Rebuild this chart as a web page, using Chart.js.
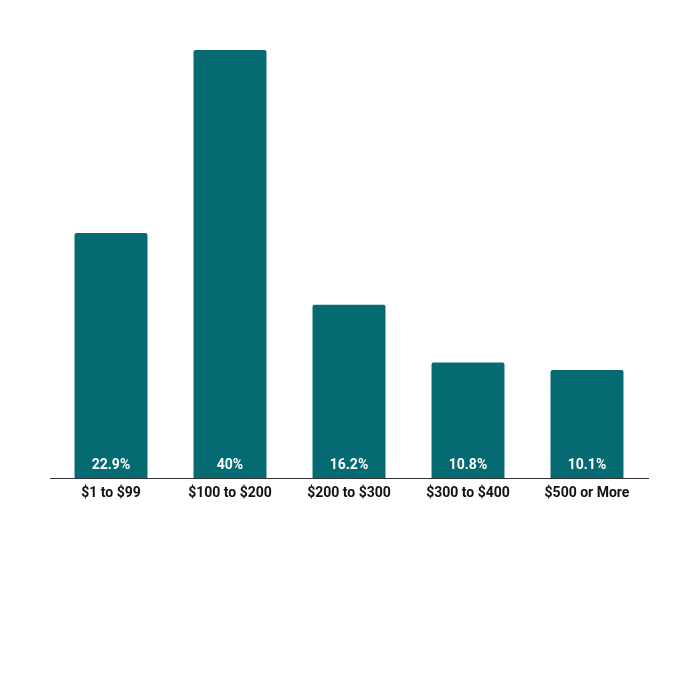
<!DOCTYPE html>
<html>
<head>
<meta charset="utf-8">
<script src="https://cdn.jsdelivr.net/npm/chart.js@4"></script>
<style>
  html, body { margin: 0; padding: 0; background: #fff; }
  #wrap { width: 700px; height: 700px; }
</style>
</head>
<body>
<div id="wrap"><canvas id="priceChart"></canvas></div>
<script>
const categories = ['$1 to $99', '$100 to $200', '$200 to $300', '$300 to $400', '$500 or More']
const shares = [22.9, 40, 16.2, 10.8, 10.1]
const barColor = '#066a72'

// white value labels near the base of each bar
const insideLabels = {
    id: 'insideLabels',
    afterDatasetsDraw(chart) {
        const ctx = chart.ctx
        const meta = chart.getDatasetMeta(0)
        ctx.save()
        ctx.fillStyle = '#ffffff'
        ctx.font = 'bold 14px Roboto'
        ctx.textAlign = 'center'
        ctx.textBaseline = 'middle'
        meta.data.forEach((bar, i) => {
            ctx.fillText(shares[i] + '%', bar.x, chart.chartArea.bottom - 12.5)
        })
        ctx.restore()
    }
}

// baseline runs a little past the plot area on both sides
const baseLine = {
    id: 'baseLine',
    afterDatasetsDraw(chart) {
        const ctx = chart.ctx
        const y = Math.round(chart.chartArea.bottom) + 0.5
        ctx.save()
        ctx.strokeStyle = '#333'
        ctx.lineWidth = 1
        ctx.beginPath()
        ctx.moveTo(50, y)
        ctx.lineTo(649, y)
        ctx.stroke()
        ctx.restore()
    }
}

const ctx = document.getElementById('priceChart').getContext('2d')

new Chart(ctx, {
    type: 'bar',
    data: {
        labels: categories,
        datasets: [{
            data: shares,
            backgroundColor: barColor,
            borderRadius: 2,
            borderSkipped: 'bottom',
            categoryPercentage: 1,
            barPercentage: 0.613
        }]
    },
    options: {
        responsive: true,
        maintainAspectRatio: false,
        animation: false,
        layout: {
            padding: { left: 51.5, right: 53.5, top: 50, bottom: 191 }
        },
        plugins: {
            legend: { display: false },
            tooltip: { enabled: false }
        },
        scales: {
            y: {
                display: false,
                min: 0,
                max: 40
            },
            x: {
                grid: { display: false, drawTicks: false },
                border: { display: false },
                ticks: {
                    color: '#111',
                    padding: 7,
                    font: { family: 'Roboto', weight: 'bold', size: 14 }
                }
            }
        }
    },
    plugins: [insideLabels, baseLine]
})
</script>
</body>
</html>
